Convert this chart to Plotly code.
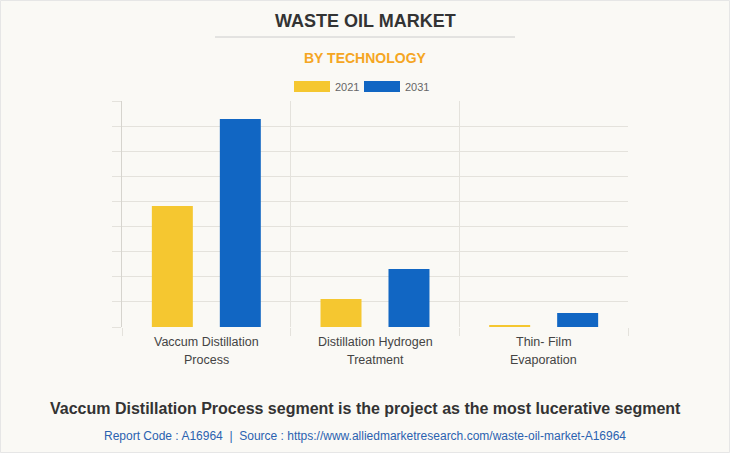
import plotly.graph_objects as go

categories = ["Vaccum Distillation<br>Process", "Distillation Hydrogen<br>Treatment", "Thin- Film<br>Evaporation"]
series_names = ["2021", "2031"]
values_2021 = [4.82, 1.12, 0.06]
values_2031 = [8.28, 2.31, 0.56]
colors = ["#F5C730", "#1166C3"]

W, H = 730, 453
ML, MR, MT, MB = 122, 102, 101, 126
PH = H - MT - MB
PW = W - ML - MR

def py(ypx):
    return (H - MB - ypx) / PH

def px(xpx):
    return (xpx - ML) / PW

fig = go.Figure()
for name, vals, c in zip(series_names, [values_2021, values_2031], colors):
    fig.add_trace(go.Bar(x=categories, y=vals, name=name, marker=dict(color=c, line=dict(width=0)),
                         showlegend=False, hoverinfo="x+y"))

grid = "#e4e2dc"
fig.update_layout(
    width=W, height=H,
    margin=dict(l=ML, r=MR, t=MT, b=MB),
    paper_bgcolor="#FAF9F5", plot_bgcolor="#FAF9F5",
    barmode="group", bargap=0.194, bargroupgap=0.397,
    font=dict(family="Liberation Sans, Arial, sans-serif", color="#444"),
    xaxis=dict(tickson="boundaries", showgrid=True, gridcolor=grid, gridwidth=1,
               ticks="outside", ticklen=8, tickcolor=grid, showticklabels=False,
               showline=False, zeroline=False, fixedrange=True),
    yaxis=dict(range=[0, 9], dtick=1, showgrid=True, gridcolor=grid, gridwidth=1,
               ticks="outside", ticklen=9, tickcolor=grid, showticklabels=False,
               showline=True, linecolor="#d6d4ce", zeroline=False, fixedrange=True),
)

CX = px(365)
annotations = [
    dict(text="<b>WASTE OIL MARKET</b>", x=CX, y=py(20.5), xref="paper", yref="paper",
         xanchor="center", yanchor="middle", showarrow=False,
         font=dict(size=18, color="#333333", family="Liberation Sans, Arial")),
    dict(text="<b>BY TECHNOLOGY</b>", x=CX, y=py(58), xref="paper", yref="paper",
         xanchor="center", yanchor="middle", showarrow=False,
         font=dict(size=14, color="#F5A623", family="Liberation Sans, Arial")),
    dict(text="<b>Vaccum Distillation Process segment is the project as the most lucerative segment</b>",
         x=CX, y=py(408), xref="paper", yref="paper", xanchor="center", yanchor="middle",
         showarrow=False, font=dict(size=16, color="#333333", family="Liberation Sans, Arial")),
    dict(text="Report Code : A16964  |  Source : https://www.alliedmarketresearch.com/waste-oil-market-A16964",
         x=CX, y=py(436), xref="paper", yref="paper", xanchor="center", yanchor="middle",
         showarrow=False, font=dict(size=12, color="#2A62B0", family="Liberation Sans, Arial")),
]

# category labels (two lines, wider line spacing than plotly's default)
for cat in categories:
    for i, line in enumerate(cat.split("<br>")):
        annotations.append(dict(text=line, x=cat, xref="x", y=py(342 + 18 * i), yref="paper",
                                xanchor="center", yanchor="middle", showarrow=False,
                                font=dict(size=12.5, color="#444444")))

shapes = [
    dict(type="line", xref="paper", yref="paper", x0=px(215), x1=px(515), y0=py(37), y1=py(37),
         line=dict(color="#cccccc", width=1)),
    dict(type="rect", xref="paper", yref="paper", x0=px(0.5), x1=px(729.5), y0=py(0.5), y1=py(452.5),
         line=dict(color="#e6e6e6", width=1)),
]

# legend swatches
leg_x = [294, 364]
for name, c, lx in zip(series_names, colors, leg_x):
    shapes.append(dict(type="rect", xref="paper", yref="paper", x0=px(lx), x1=px(lx + 36),
                       y0=py(92), y1=py(81), fillcolor=c, line=dict(width=0)))
    annotations.append(dict(text=name, x=px(lx + 39), y=py(86.5), xref="paper", yref="paper",
                            xanchor="left", yanchor="middle", showarrow=False,
                            font=dict(size=11, color="#666666")))

fig.update_layout(annotations=annotations, shapes=shapes)
fig.write_html("out.html", config={"displayModeBar": False},
               post_script="document.body.style.margin='0';document.body.style.overflow='hidden';")
